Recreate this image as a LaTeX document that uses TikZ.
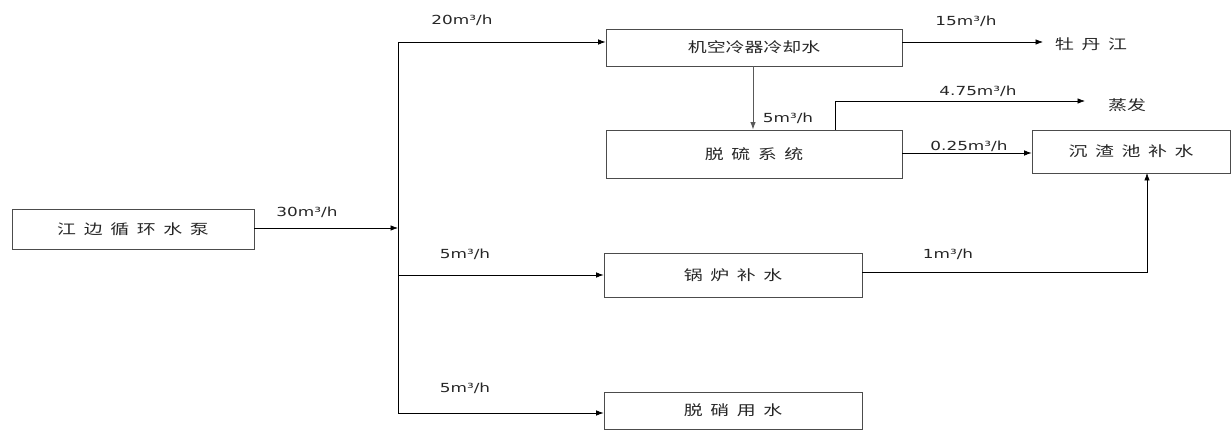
\documentclass[tikz,border=0pt]{standalone}
\usepackage{fontspec}
\setmainfont{DejaVu Sans}[FakeStretch=1.35]
\newfontfamily\cjk{Noto Sans CJK SC}[FakeStretch=1.35,WordSpace=1.8]
\usetikzlibrary{arrows.meta}

\begin{document}
\begin{tikzpicture}[x=1pt,y=-1pt,>={Latex[length=7.5pt,width=5.5pt]},
  box/.style={draw=black!70,line width=0.8pt,inner sep=0pt,text=black!85,font=\cjk\fontsize{14}{16}\selectfont},
  flow/.style={text=black!85,font=\fontsize{12.5}{14}\selectfont},
  place/.style={text=black!85,font=\cjk\fontsize{14}{16}\selectfont}]
  \useasboundingbox (0,0) rectangle (1231,430);
  % boxes
  \node[box,minimum width=242pt,minimum height=40pt] (pump) at (133,229) {江 边 循 环 水 泵};
  \node[box,minimum width=296pt,minimum height=37pt] (cooler) at (754,47.5) {机空冷器冷却水};
  \node[box,minimum width=296pt,minimum height=48pt] (desulf) at (754,154) {脱 硫 系 统};
  \node[box,minimum width=198pt,minimum height=43pt] (slag) at (1131,151.5) {沉 渣 池 补 水};
  \node[box,minimum width=258pt,minimum height=44pt] (boiler) at (733,275) {锅 炉 补 水};
  \node[box,minimum width=258pt,minimum height=37pt] (denitr) at (733,410.5) {脱 硝 用 水};
  \node[place] (river) at (1091,44) {牡 丹 江};
  \node[place] (evap) at (1127,105) {蒸发};
  % coordinates
  \coordinate (top) at (398,42);
  \coordinate (bot) at (398,413);
  \coordinate (riverend) at (1043,42);
  \coordinate (evapup) at (835,101);
  \coordinate (evapend) at (1085,101);
  \coordinate (slagin) at (1147,173);
  % connectors
  \draw[line width=0.7pt] (top) -- (bot);
  \draw[->,line width=0.7pt] (pump.east |- 0,228) -- (top |- 0,228);
  \draw[->,line width=0.7pt] (top) -- (top -| cooler.west);
  \draw[->,line width=0.7pt] (top |- boiler.west) -- (boiler.west);
  \draw[->,line width=0.7pt] (bot) -- (bot -| denitr.west);
  \draw[->,line width=0.7pt] (cooler.east |- riverend) -- (riverend);
  \draw[->,line width=1pt,black!65] (cooler.south -| 753,0) -- (desulf.north -| 753,0);
  \draw[->,line width=0.7pt] (evapup |- desulf.north) -- (evapup) -- (evapend);
  \draw[->,line width=0.7pt] (desulf.east |- 0,153) -- (slag.west |- 0,153);
  \draw[->,line width=0.7pt] (boiler.east |- 0,272) -- (slagin |- 0,272) -- (slagin);
  % flow labels
  \node[flow] at (307,212) {30m³/h};
  \node[flow] at (462,20) {20m³/h};
  \node[flow] at (465,254) {5m³/h};
  \node[flow] at (465,388) {5m³/h};
  \node[flow] at (966,21) {15m³/h};
  \node[flow] at (788,118) {5m³/h};
  \node[flow] at (978,91) {4.75m³/h};
  \node[flow] at (969,146) {0.25m³/h};
  \node[flow] at (948,254) {1m³/h};
\end{tikzpicture}
\end{document}
